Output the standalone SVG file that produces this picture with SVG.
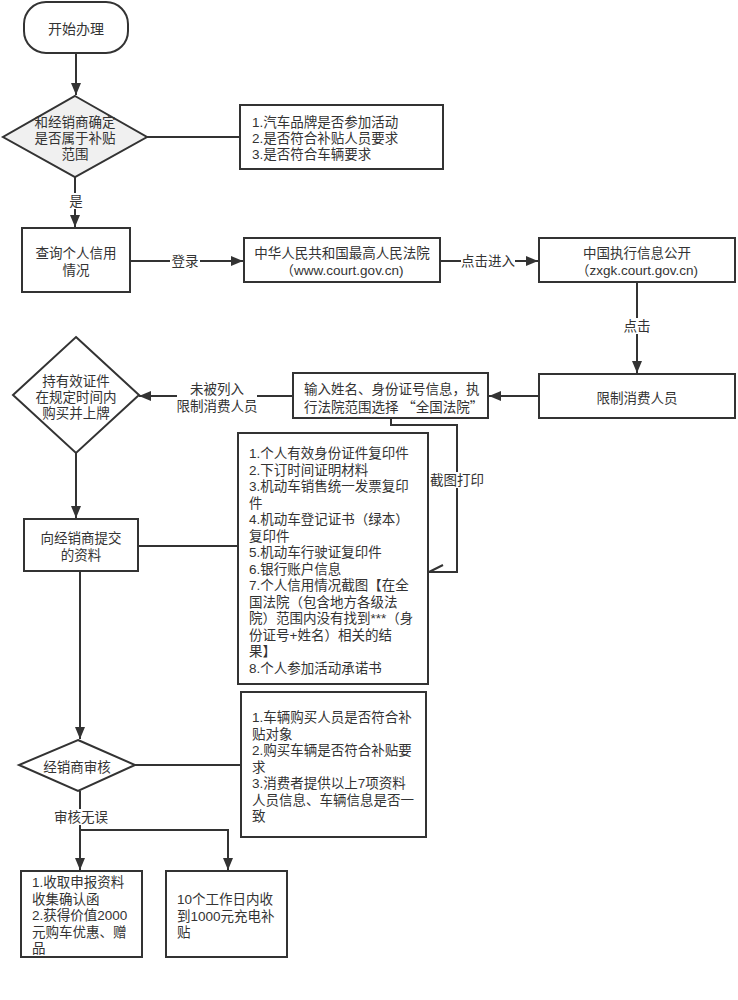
<svg xmlns="http://www.w3.org/2000/svg" width="738" height="1000" viewBox="0 0 738 1000">
<style>
.n{fill:#fff;stroke:#333;stroke-width:2}
.d1{fill:#f0f0f0;stroke:#333;stroke-width:2}
.t{font-family:"Liberation Sans","Noto Sans CJK SC",sans-serif;font-size:13.5px;fill:#333}
.cj{font-family:"Noto Sans CJK SC",sans-serif}
.c{text-anchor:middle}
.e{fill:none;stroke:#333;stroke-width:2}
.lb{fill:#fff}
</style>
<defs>
<marker id="ah" viewBox="0 0 12 10" refX="12" refY="5" markerWidth="12" markerHeight="10" markerUnits="userSpaceOnUse" orient="auto">
<path d="M0,0 L12,5 L0,10 z" fill="#333"/>
</marker>
</defs>
<rect width="738" height="1000" fill="#fff"/>

<g id="connectors">
<path class="e" d="M76,53 V95" marker-end="url(#ah)"/>
<path class="e" d="M147,137 H240"/>
<path class="e" d="M75,177 V227" marker-end="url(#ah)"/>
<path class="e" d="M130,261 H243" marker-end="url(#ah)"/>
<path class="e" d="M440,261 H538" marker-end="url(#ah)"/>
<path class="e" d="M637,282 V373" marker-end="url(#ah)"/>
<path class="e" d="M539,396 H489" marker-end="url(#ah)"/>
<path class="e" d="M293,396 H139" marker-end="url(#ah)"/>
<path class="e" d="M76,453 V518" marker-end="url(#ah)"/>
<path class="e" d="M138,546 H238"/>
<path class="e" d="M391,418 V425 H457 V572 H429"/>
<path class="e" d="M429,572 L443,565"/>
<path class="e" d="M80,571 V739" marker-end="url(#ah)"/>
<path class="e" d="M135,765 H241"/>
<path class="e" d="M80,791 V870" marker-end="url(#ah)"/>
<path class="e" d="M80,830 H228 V870" marker-end="url(#ah)"/>
<g id="labels">
<rect class="lb" x="69" y="193" width="14" height="16"/>
<text class="t c" x="76" y="206">是</text>
<rect class="lb" x="170" y="253" width="30" height="16"/>
<text class="t c" x="185" y="266">登录</text>
<rect class="lb" x="461" y="253" width="54" height="16"/>
<text class="t c" x="488" y="266">点击进入</text>
<rect class="lb" x="623" y="318" width="28" height="16"/>
<text class="t c" x="637" y="331">点击</text>
<rect class="lb" x="177" y="380" width="80" height="34"/>
<text class="t c" x="217" y="394">未被列入<tspan x="217" dy="17">限制消费人员</tspan></text>
<rect class="lb" x="430" y="472" width="54" height="16"/>
<text class="t c" x="457" y="485">截图打印</text>
<rect class="lb" x="54" y="809" width="54" height="16"/>
<text class="t c" x="81" y="822">审核无误</text>
</g>
</g>

<g id="start">
<rect class="n" x="24" y="2" width="104" height="51" rx="22"/>
<text class="t c" x="76" y="34" style="font-size:14px">开始办理</text>
</g>

<g id="decision1">
<polygon class="d1" points="75,96 147,137 75,177 3,137"/>
<text class="t c" x="75" y="127">和经销商确定<tspan x="75" dy="16">是否属于补贴</tspan><tspan x="75" dy="16">范围</tspan></text>
</g>

<g id="criteria1">
<rect class="n" x="240" y="105" width="203" height="64"/>
<text class="t" x="252" y="127">1.汽车品牌是否参加活动<tspan x="252" dy="16">2.是否符合补贴人员要求</tspan><tspan x="252" dy="16">3.是否符合车辆要求</tspan></text>
</g>

<g id="query">
<rect class="n" x="22" y="228" width="108" height="64"/>
<text class="t c" x="76" y="258">查询个人信用<tspan x="76" dy="17">情况</tspan></text>
</g>

<g id="court">
<rect class="n" x="244" y="238" width="196" height="44"/>
<text class="t c" x="342" y="258">中华人民共和国最高人民法院<tspan x="342" dy="17">（www.court.gov.cn)</tspan></text>
</g>

<g id="zxgk">
<rect class="n" x="539" y="238" width="196" height="44"/>
<text class="t c" x="637" y="258">中国执行信息公开<tspan x="637" dy="17">（zxgk.court.gov.cn)</tspan></text>
</g>

<g id="restricted">
<rect class="n" x="539" y="374" width="196" height="44"/>
<text class="t c" x="637" y="403">限制消费人员</text>
</g>

<g id="input">
<rect class="n" x="293" y="373" width="195" height="45"/>
<text class="t" x="304" y="394">输入姓名、身份证号信息，执<tspan x="304" dy="18">行法院范围选择 <tspan class="cj">“</tspan>全国法院<tspan class="cj">”</tspan></tspan></text>
</g>

<g id="decision2">
<polygon class="n" points="76,337 139,395 76,453 13,395"/>
<text class="t c" x="76" y="386">持有效证件<tspan x="76" dy="16">在规定时间内</tspan><tspan x="76" dy="16">购买并上牌</tspan></text>
</g>

<g id="submit">
<rect class="n" x="24" y="519" width="114" height="52"/>
<text class="t c" x="81" y="543">向经销商提交<tspan x="81" dy="17">的资料</tspan></text>
</g>

<g id="materials">
<rect class="n" x="238" y="433" width="190" height="251"/>
<text class="t" x="249" y="458">1.个人有效身份证件复印件<tspan x="249" dy="16.5">2.下订时间证明材料</tspan><tspan x="249" dy="16.5">3.机动车销售统一发票复印</tspan><tspan x="249" dy="16.5">件</tspan><tspan x="249" dy="16.5">4.机动车登记证书（绿本）</tspan><tspan x="249" dy="16.5">复印件</tspan><tspan x="249" dy="16.5">5.机动车行驶证复印件</tspan><tspan x="249" dy="16.5">6.银行账户信息</tspan><tspan x="249" dy="16.5">7.个人信用情况截图【在全</tspan><tspan x="249" dy="16.5">国法院（包含地方各级法</tspan><tspan x="249" dy="16.5">院）范围内没有找到***（身</tspan><tspan x="249" dy="16.5">份证号+姓名）相关的结</tspan><tspan x="249" dy="16.5">果】</tspan><tspan x="249" dy="16.5">8.个人参加活动承诺书</tspan></text>
</g>

<g id="decision3">
<polygon class="n" points="78,740 135,765 78,791 19,765"/>
<text class="t c" x="77" y="772">经销商审核</text>
</g>

<g id="criteria2">
<rect class="n" x="241" y="692" width="185" height="145"/>
<text class="t" x="252" y="722">1.车辆购买人员是否符合补<tspan x="252" dy="16.5">贴对象</tspan><tspan x="252" dy="16.5">2.购买车辆是否符合补贴要</tspan><tspan x="252" dy="16.5">求</tspan><tspan x="252" dy="16.5">3.消费者提供以上7项资料</tspan><tspan x="252" dy="16.5">人员信息、车辆信息是否一</tspan><tspan x="252" dy="16.5">致</tspan></text>
</g>

<g id="result1">
<rect class="n" x="21" y="871" width="121" height="86"/>
<text class="t" x="32" y="887">1.收取申报资料<tspan x="32" dy="16.5">收集确认函</tspan><tspan x="32" dy="16.5">2.获得价值2000</tspan><tspan x="32" dy="16.5">元购车优惠、赠</tspan><tspan x="32" dy="16.5">品</tspan></text>
</g>

<g id="result2">
<rect class="n" x="166" y="871" width="121" height="86"/>
<text class="t" x="177" y="904">10个工作日内收<tspan x="177" dy="16.5">到1000元充电补</tspan><tspan x="177" dy="16.5">贴</tspan></text>
</g>
</svg>
